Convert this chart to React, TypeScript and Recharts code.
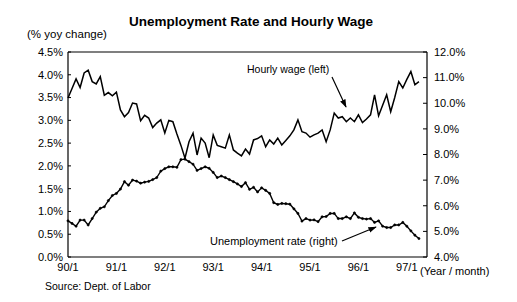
import React from "react";
import { LineChart, Line, XAxis, YAxis, ReferenceLine } from "recharts";

const tickMonths = [0, 12, 24, 36, 48, 60, 72, 84];
const tickLabels = ["90/1", "91/1", "92/1", "93/1", "94/1", "95/1", "96/1", "97/1"];
const leftTicks = [0, 0.5, 1, 1.5, 2, 2.5, 3, 3.5, 4, 4.5];
const rightTicks = [4, 5, 6, 7, 8, 9, 10, 11, 12];

// Hourly wage, % yoy change (left axis), monthly from 90/1
const wage = [
  3.49, 3.7, 3.91, 3.72, 4.04, 4.1, 3.85, 3.8, 3.96, 3.55, 3.61, 3.54,
  3.62, 3.23, 3.08, 3.17, 3.38, 3.36, 2.99, 3.11, 3.05, 2.84, 2.94, 3.01,
  2.72, 3.0, 2.97, 2.7, 2.45, 2.17, 2.53, 2.72, 2.24, 2.61, 2.5, 2.18,
  2.68, 2.45, 2.42, 2.39, 2.68, 2.35, 2.28, 2.22, 2.37, 2.26, 2.57, 2.6,
  2.66, 2.42, 2.57, 2.48, 2.61, 2.46, 2.56, 2.66, 2.79, 3.01, 2.75, 2.72,
  2.63, 2.68, 2.72, 2.79, 2.53, 2.79, 3.16, 3.05, 3.08, 2.97, 3.05, 2.97,
  3.12, 2.95, 3.03, 3.12, 3.56, 3.1, 3.33, 3.56, 3.19, 3.5, 3.85, 3.71,
  3.9, 4.07, 3.78, 3.85,
];

// Unemployment rate, % (right axis), monthly from 90/1
const unemp = [
  5.41, 5.31, 5.2, 5.44, 5.44, 5.25, 5.5, 5.75, 5.9, 5.96, 6.2, 6.4,
  6.48, 6.65, 6.94, 6.8, 7.0, 6.96, 6.88, 6.92, 6.95, 7.02, 7.1, 7.35,
  7.45, 7.52, 7.52, 7.5, 7.8, 7.82, 7.72, 7.62, 7.38, 7.45, 7.52, 7.46,
  7.3, 7.1, 7.16, 7.1, 7.02, 6.94, 6.85, 6.75, 6.9, 6.64, 6.72, 6.54,
  6.7, 6.6, 6.48, 6.12, 6.05, 6.09, 6.08, 6.06, 5.88, 5.7, 5.4, 5.5,
  5.44, 5.45, 5.38, 5.57, 5.58, 5.7, 5.7, 5.5, 5.5, 5.57, 5.5, 5.72,
  5.55, 5.5, 5.48, 5.5, 5.35, 5.41, 5.2, 5.15, 5.15, 5.25, 5.25, 5.35,
  5.2, 5.02, 4.85, 4.72,
];

const data = wage.map((w, i) => ({ m: i, wage: w, unemp: unemp[i] }));

const FONT = "'Liberation Sans', Arial, Helvetica, sans-serif";

const LeftTick = (p: any) => (
  <g>
    <line x1={p.x + 5} x2={p.x + 8} y1={p.y} y2={p.y} stroke="#000" strokeWidth={1} />
    <text x={p.x} y={p.y} dy="0.35em" textAnchor="end" fontSize={11} fontFamily={FONT} fill="#000">
      {p.payload.value.toFixed(1) + "%"}
    </text>
  </g>
);

const RightTick = (p: any) => (
  <g>
    <line x1={p.x - 7} x2={p.x - 11} y1={p.y} y2={p.y} stroke="#000" strokeWidth={1} />
    <text x={p.x} y={p.y} dy="0.35em" textAnchor="start" fontSize={11} fontFamily={FONT} fill="#000">
      {p.payload.value.toFixed(1) + "%"}
    </text>
  </g>
);

export default function App() {
  return (
    <div style={{ position: "absolute", left: 0, top: 0, width: 517, height: 302, background: "#fff" }}>
      <LineChart
        width={517}
        height={302}
        data={data}
        margin={{ top: 52, right: 30, bottom: 15, left: 8 }}
      >
        <XAxis
          dataKey="m"
          type="number"
          domain={[0, 89]}
          ticks={tickMonths}
          tickFormatter={(v: number) => tickLabels[tickMonths.indexOf(v)]}
          tickLine={false}
          tickSize={0}
          tickMargin={6}
          height={30}
          axisLine={{ stroke: "#000", strokeWidth: 1.2 }}
          tick={{ fill: "#000", fontSize: 11, fontFamily: FONT }}
        />
        <YAxis
          yAxisId="left"
          orientation="left"
          domain={[0, 4.5]}
          ticks={leftTicks}
          width={60}
          tickLine={false}
          tickSize={0}
          tickMargin={5}
          axisLine={{ stroke: "#000", strokeWidth: 1.2 }}
          tick={(p: any) => <LeftTick {...p} />}
          interval={0}
        />
        <YAxis
          yAxisId="right"
          orientation="right"
          domain={[4, 12]}
          ticks={rightTicks}
          width={60}
          tickLine={false}
          tickSize={0}
          tickMargin={7}
          axisLine={{ stroke: "#000", strokeWidth: 1.2 }}
          tick={(p: any) => <RightTick {...p} />}
          interval={0}
        />
        <ReferenceLine yAxisId="left" y={4.5} stroke="#000" strokeWidth={1.2} />
        <Line
          yAxisId="left"
          dataKey="wage"
          type="linear"
          stroke="#000"
          strokeWidth={1.5}
          dot={false}
          isAnimationActive={false}
        />
        <Line
          yAxisId="right"
          dataKey="unemp"
          type="linear"
          stroke="#000"
          strokeWidth={1.4}
          dot={{ r: 1.1, fill: "#000", stroke: "#000", strokeWidth: 0.6 }}
          isAnimationActive={false}
        />
      </LineChart>
      <svg
        width={517}
        height={302}
        style={{ position: "absolute", left: 0, top: 0, pointerEvents: "none" }}
      >
        <defs>
          <marker id="ah" viewBox="0 0 10 10" refX="9" refY="5" markerWidth="7" markerHeight="7" orient="auto">
            <path d="M0,1.5 L10,5 L0,8.5 z" fill="#000" />
          </marker>
        </defs>
        <text x={251} y={26} textAnchor="middle" fontSize={13.5} fontWeight="bold" fontFamily={FONT} fill="#000">
          Unemployment Rate and Hourly Wage
        </text>
        <text x={27} y={38} fontSize={11.5} fontFamily={FONT} fill="#000">
          (% yoy change)
        </text>
        <text x={247} y={73} fontSize={10.5} fontFamily={FONT} fill="#000">
          Hourly wage (left)
        </text>
        <line x1={332} y1={77} x2={346} y2={107} stroke="#000" strokeWidth={1.2} markerEnd="url(#ah)" />
        <text x={210} y={244.5} fontSize={11} fontFamily={FONT} fill="#000">
          Unemployment rate (right)
        </text>
        <line x1={342} y1={241} x2={376} y2={227} stroke="#000" strokeWidth={1.2} markerEnd="url(#ah)" />
        <text x={420} y={275} fontSize={11} fontFamily={FONT} fill="#000">
          (Year / month)
        </text>
        <text x={45} y={290} fontSize={10.5} fontFamily={FONT} fill="#000">
          Source: Dept. of Labor
        </text>
      </svg>
    </div>
  );
}
